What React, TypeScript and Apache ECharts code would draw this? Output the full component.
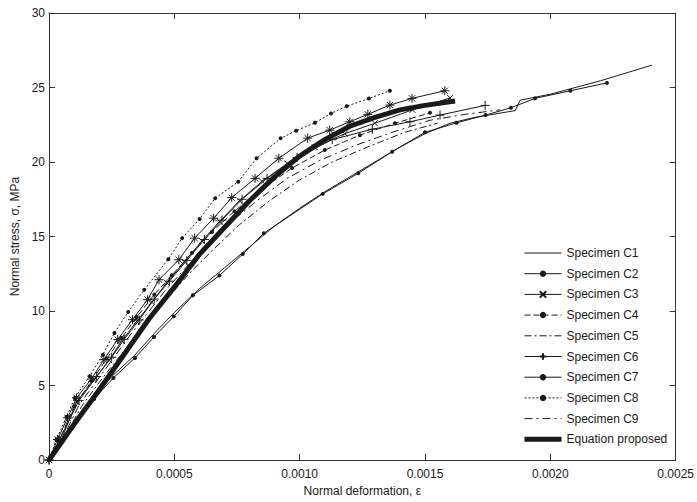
import React, { useEffect, useRef } from "react";
import * as echarts from "echarts";

const xTicks = [0, 0.0005, 0.001, 0.0015, 0.002, 0.0025];
const xTickLabels = ["0", "0.0005", "0.0010", "0.0015", "0.0020", "0.0025"];
const yTicks = [0, 5, 10, 15, 20, 25, 30];

const seriesNames = [
  "Specimen C1", "Specimen C2", "Specimen C3", "Specimen C4", "Specimen C5",
  "Specimen C6", "Specimen C7", "Specimen C8", "Specimen C9", "Equation proposed",
];

const c1 = [[0,0],[0.00009,2.2],[0.00018,4.2],[0.00025,5.6],[0.00034,7.0],[0.00042,8.5],[0.0005,9.9],[0.0006,11.5],[0.0007,12.9],[0.0008,14.3],[0.0009,15.7],[0.001,16.9],[0.0011,18.0],[0.0012,19.0],[0.0013,20.0],[0.0014,21.0],[0.0015,21.9],[0.0016,22.6],[0.0017,23.0],[0.00186,23.45],[0.00188,24.15],[0.002,24.55],[0.0022,25.45],[0.002405,26.5]];
const c2 = [[0,0],[0.00009,2.1],[0.00018,4.1],[0.000257,5.51],[0.000343,6.85],[0.000419,8.26],[0.000498,9.64],[0.000574,11.05],[0.00068,12.38],[0.000773,13.82],[0.000857,15.22],[0.001092,17.86],[0.001234,19.24],[0.001369,20.69],[0.0015,21.99],[0.001626,22.63],[0.001742,23.15],[0.001843,23.64],[0.001939,24.27],[0.00208,24.78],[0.002226,25.31]];
const c3 = [[0,0],[0.00005,1.4],[0.00011,3.9],[0.00018,5.4],[0.00024,6.7],[0.00029,8.0],[0.00035,9.3],[0.00041,10.6],[0.00047,11.9],[0.00054,13.3],[0.00061,14.7],[0.00068,16.0],[0.00076,17.4],[0.00085,18.7],[0.00095,19.9],[0.00106,21.0],[0.00118,21.9],[0.0013,22.6],[0.00145,23.5],[0.0016,24.3]];
const c4 = [[0,0],[0.00004,1.3],[0.0001,3.6],[0.00017,5.3],[0.00023,6.8],[0.00029,8.2],[0.00035,9.6],[0.00042,11.1],[0.00049,12.4],[0.00057,13.9],[0.00065,15.3],[0.00074,16.7],[0.00085,18.2],[0.00097,19.6],[0.0011,20.8],[0.00124,21.8],[0.00138,22.6],[0.00152,23.3]];
const c5 = [[0,0],[0.00005,1.2],[0.00013,3.6],[0.0002,5.2],[0.00027,6.7],[0.00034,8.2],[0.00041,9.7],[0.00049,11.2],[0.00057,12.7],[0.00066,14.2],[0.00076,15.8],[0.00088,17.4],[0.001,18.8],[0.00113,20.0],[0.00127,21.0],[0.00142,22.0],[0.00155,22.6]];
const c6 = [[0,0],[0.00004,1.3],[0.00012,4.0],[0.00019,5.6],[0.00025,6.9],[0.0003,8.1],[0.00036,9.4],[0.00042,10.8],[0.00048,12.0],[0.00055,13.4],[0.00062,14.8],[0.00069,16.1],[0.00077,17.5],[0.00087,18.9],[0.00099,20.3],[0.00113,21.5],[0.00129,22.2],[0.00144,22.7],[0.00156,23.15],[0.00174,23.8]];
const c7 = [[0,0],[0.000034,1.38],[0.000074,2.83],[0.00011,4.17],[0.000169,5.44],[0.000219,6.74],[0.000274,8.08],[0.000333,9.42],[0.000393,10.76],[0.000439,12.1],[0.000518,13.44],[0.000581,14.89],[0.000657,16.23],[0.000729,17.61],[0.000822,18.9],[0.000917,20.25],[0.001032,21.6],[0.00112,22.14],[0.0012,22.7],[0.001272,23.2],[0.00136,23.82],[0.001448,24.27],[0.001579,24.78]];
const c8 = [[0,0],[0.00003,1.38],[0.00007,2.9],[0.000103,4.17],[0.000162,5.62],[0.000215,7.07],[0.000261,8.53],[0.000316,9.93],[0.00038,11.43],[0.000476,13.48],[0.000531,14.89],[0.000601,16.18],[0.000663,17.57],[0.000755,18.68],[0.000828,20.25],[0.000924,21.59],[0.000986,22.1],[0.001061,22.63],[0.001125,23.26],[0.001188,23.75],[0.001276,24.26],[0.00136,24.78]];
const c9 = [[0,0],[0.00005,1.3],[0.00012,3.7],[0.00019,5.3],[0.00026,6.9],[0.00032,8.3],[0.00039,9.8],[0.00046,11.3],[0.00054,12.8],[0.00062,14.3],[0.00072,15.9],[0.00083,17.4],[0.00095,18.9],[0.00108,20.1],[0.00122,21.1],[0.00137,22.0],[0.00152,22.8],[0.00166,23.2],[0.0018,23.5]];
const equation = [[0,0],[0.0001,2.4],[0.0002,4.7],[0.0003,7.1],[0.0004,9.5],[0.0005,11.6],[0.0006,13.8],[0.0007,15.6],[0.0008,17.4],[0.0009,19.0],[0.001,20.4],[0.0011,21.5],[0.0012,22.4],[0.0013,23.0],[0.0014,23.5],[0.0015,23.8],[0.00162,24.1]];

const FONT = "'Liberation Sans', Arial, sans-serif";
const INK = "#1a1a1a";
const STAR = "path://M0,5L10,5M5,0L5,10M1.5,1.5L8.5,8.5M8.5,1.5L1.5,8.5";
const PLUS = "path://M0,5L10,5M5,0L5,10";
const CROSS = "path://M0,0L10,10M10,0L0,10";
const CLEAR = "rgba(0,0,0,0)";

export default function App() {
  const ref = useRef<HTMLDivElement>(null);
  useEffect(() => {
    if (!ref.current) return;
    const chart = echarts.init(ref.current, null, { renderer: "svg" });
    const datasets = [c1, c2, c3, c4, c5, c6, c7, c8, c9, equation];
    const styles: any[] = [
      { dash: "solid", symbol: "none" },
      { dash: "solid", symbol: "circle", size: 4, filled: true },
      { dash: "solid", symbol: CROSS, size: 6 },
      { dash: [6, 3], symbol: "circle", size: 4, filled: true },
      { dash: [7, 3, 2, 3], symbol: "none" },
      { dash: "solid", symbol: PLUS, size: 9 },
      { dash: "solid", symbol: STAR, size: 9 },
      { dash: [2, 2], symbol: "circle", size: 4, filled: true },
      { dash: [8, 4, 2, 4], symbol: "none" },
      { dash: "solid", symbol: "none", width: 5 },
    ];
    const series = datasets.map((d, i) => {
      const s = styles[i];
      return {
        name: seriesNames[i],
        type: "line",
        data: d,
        symbol: s.symbol,
        symbolSize: s.size || 4,
        showSymbol: s.symbol !== "none",
        showAllSymbol: true,
        lineStyle: { color: INK, width: s.width || 1, type: s.dash },
        itemStyle: s.filled
          ? { color: INK, borderWidth: 0 }
          : s.symbol === "none"
          ? { color: CLEAR, borderColor: CLEAR, borderWidth: 0 }
          : { color: CLEAR, borderColor: INK, borderWidth: 1 },
        z: i === 9 ? 3 : 2,
        emphasis: { disabled: true },
      };
    });
    const legendData = seriesNames.map((n, i) => {
      const s = styles[i];
      if (s.symbol === "none") {
        return { name: n, itemStyle: { color: CLEAR, borderColor: CLEAR, borderWidth: 0 } };
      }
      return { name: n };
    });
    const axisCommon = {
      axisLine: { show: true, onZero: false, lineStyle: { color: "#333", width: 1 } },
      axisTick: { show: true, inside: true, length: 6, lineStyle: { color: "#333" } },
      splitLine: { show: false },
    };
    chart.setOption({
      animation: false,
      grid: { left: 49, top: 13, width: 632, height: 448, containLabel: false },
      legend: {
        data: legendData,
        orient: "vertical",
        left: 522,
        top: 247,
        itemWidth: 37,
        itemHeight: 8,
        itemGap: 8.7,
        padding: 0,
        lineStyle: { width: "inherit" },
        textStyle: { fontFamily: FONT, fontSize: 12, color: INK },
        selectedMode: false,
      },
      xAxis: [
        {
          type: "value",
          min: 0,
          max: 0.0025,
          interval: 0.0005,
          name: "Normal deformation, \u03b5",
          nameLocation: "middle",
          nameGap: 25,
          nameTextStyle: { fontFamily: FONT, fontSize: 12, color: INK },
          axisLabel: {
            fontFamily: FONT, fontSize: 12, color: INK, margin: 8,
            formatter: (v: number) => {
              const idx = xTicks.findIndex((t) => Math.abs(t - v) < 1e-9);
              return idx >= 0 ? xTickLabels[idx] : "";
            },
          },
          ...axisCommon,
        },
        {
          type: "value", position: "top", min: 0, max: 0.0025, interval: 0.0005,
          axisLabel: { show: false }, ...axisCommon,
        },
      ],
      yAxis: [
        {
          type: "value",
          min: 0,
          max: 30,
          interval: 5,
          name: "Normal stress, \u03c3, MPa",
          nameLocation: "middle",
          nameGap: 22,
          nameTextStyle: { fontFamily: FONT, fontSize: 12, color: INK },
          axisLabel: {
            fontFamily: FONT, fontSize: 12, color: INK, margin: 4,
            formatter: (v: number) => (yTicks.includes(v) ? String(v) : ""),
          },
          ...axisCommon,
        },
        {
          type: "value", position: "right", min: 0, max: 30, interval: 5,
          axisLabel: { show: false }, ...axisCommon,
        },
      ],
      series,
    });
    return () => chart.dispose();
  }, []);
  return (
    <div
      ref={ref}
      style={{ position: "fixed", left: 0, top: 0, width: 697, height: 502, background: "#fff" }}
    />
  );
}
